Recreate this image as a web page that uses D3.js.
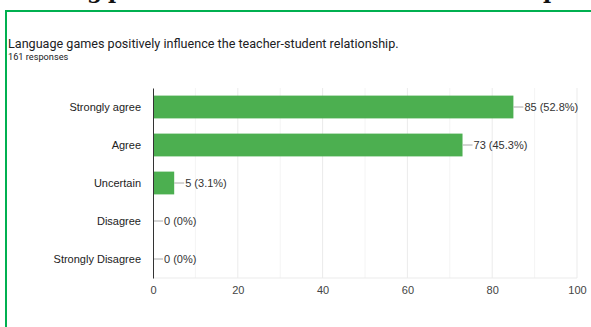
<!DOCTYPE html>
<html>
<head>
<meta charset="utf-8">
<script src="https://cdn.jsdelivr.net/npm/d3@7"></script>
<style>
  body { margin: 0; background: #fff; }
  #chart svg { display: block; }
</style>
</head>
<body>
<div id="chart"></div>
<script>
const categories = ["Strongly agree", "Agree", "Uncertain", "Disagree", "Strongly Disagree"];
const counts = [85, 73, 5, 0, 0];
const percents = ["52.8%", "45.3%", "3.1%", "0%", "0%"];
const xTicks = [0, 20, 40, 60, 80, 100];
const title = "Language games positively influence the teacher-student relationship.";
const subtitle = "161 responses";

const width = 591;
const height = 327;
const margin = { top: 88, right: 14, bottom: 49, left: 153 };

const svg = d3.select("#chart")
  .append("svg")
  .attr("width", width)
  .attr("height", height);

// bottoms of the page heading that is cut off above the screenshot
const heading = [["g", 87], ["p", 108], ["p", 543]];
svg.append("g")
  .selectAll("text")
  .data(heading)
  .enter()
  .append("text")
  .attr("x", d => d[1])
  .attr("y", -2)
  .attr("font-family", "DejaVu Serif")
  .attr("font-weight", "bold")
  .attr("font-size", 22)
  .attr("fill", "#111")
  .text(d => d[0]);

// green frame
svg.append("path")
  .attr("d", `M6,${height + 5}V11H${width + 5}`)
  .attr("fill", "none")
  .attr("stroke", "#00b050")
  .attr("stroke-width", 2);

svg.append("text")
  .attr("x", 8)
  .attr("y", 48)
  .attr("font-family", "Roboto")
  .attr("font-size", 12.6)
  .attr("fill", "#202124")
  .text(title);

svg.append("text")
  .attr("x", 8)
  .attr("y", 60)
  .attr("font-family", "Roboto")
  .attr("font-size", 9.2)
  .attr("fill", "#202124")
  .text(subtitle);

const x = d3.scaleLinear()
  .domain([0, 100])
  .range([margin.left, width - margin.right]);

const y = d3.scaleBand()
  .domain(categories)
  .range([margin.top, height - margin.bottom])
  .paddingInner(0.4)
  .paddingOuter(0.2);

// gridlines every 10
svg.append("g")
  .selectAll("line")
  .data(d3.range(10, 101, 10))
  .enter()
  .append("line")
  .attr("x1", d => x(d))
  .attr("x2", d => x(d))
  .attr("y1", margin.top)
  .attr("y2", height - margin.bottom)
  .attr("stroke", d => d % 20 === 0 ? "#ebebeb" : "#f4f4f4")
  .attr("stroke-width", 1);

svg.append("line")
  .attr("x1", margin.left)
  .attr("x2", x(100))
  .attr("y1", height - margin.bottom)
  .attr("y2", height - margin.bottom)
  .attr("stroke", "#ebebeb");

// bars
svg.append("g")
  .selectAll("rect")
  .data(counts)
  .enter()
  .append("rect")
  .attr("x", x(0))
  .attr("y", (d, i) => y(categories[i]))
  .attr("width", d => x(d) - x(0))
  .attr("height", y.bandwidth())
  .attr("fill", "#4caf50");

// value labels with leader lines
const lab = svg.append("g")
  .selectAll("g")
  .data(counts)
  .enter()
  .append("g")
  .attr("transform", (d, i) => `translate(${x(d)},${y(categories[i]) + y.bandwidth() / 2})`);

lab.append("line")
  .attr("x1", 0)
  .attr("x2", 10)
  .attr("stroke", "#aaa");

lab.append("text")
  .attr("x", 11)
  .attr("dy", "0.35em")
  .attr("font-family", "Liberation Sans")
  .attr("font-size", 11)
  .attr("fill", "#333")
  .text((d, i) => `${d} (${percents[i]})`);

// y axis
const yAxis = svg.append("g")
  .attr("transform", `translate(${margin.left},0)`)
  .call(d3.axisLeft(y).tickSize(0).tickPadding(12));
yAxis.select(".domain").attr("stroke", "#333");
yAxis.selectAll("text")
  .attr("font-family", "Liberation Sans")
  .attr("font-size", 11)
  .attr("fill", "#222");

// x axis
const xAxis = svg.append("g")
  .attr("transform", `translate(0,${height - margin.bottom})`)
  .call(d3.axisBottom(x).tickValues(xTicks).tickSize(0).tickPadding(8));
xAxis.select(".domain").remove();
xAxis.selectAll("text")
  .attr("font-family", "Liberation Sans")
  .attr("font-size", 11)
  .attr("fill", "#444");
</script>
</body>
</html>
